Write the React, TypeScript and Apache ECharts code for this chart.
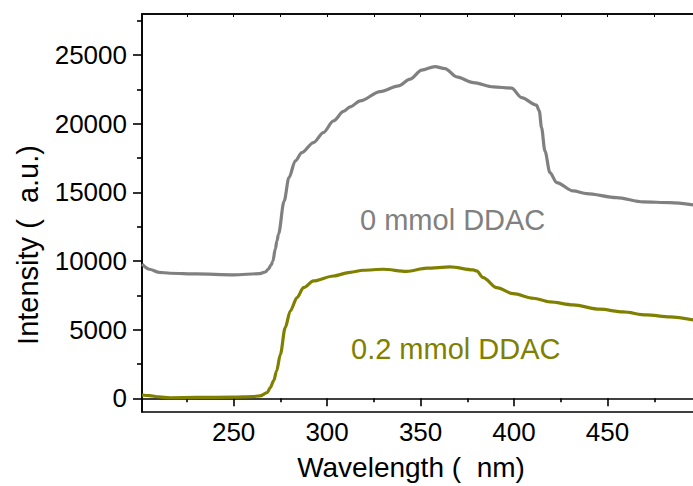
import React, { useEffect, useRef } from "react";
import * as echarts from "echarts";

// Excitation spectra: intensity vs. wavelength for two DDAC loadings
const wavelengthPure = [
  201, 205, 210, 216, 230, 250, 264, 267, 268.5, 270, 271, 272.3, 273.2, 274,
  277, 279.6, 283, 286.5, 292.7, 298, 303.4, 308.8, 312.3, 317.7, 328.4, 338.2,
  344.4, 350.6, 357.7, 363.1, 369.3, 378.2, 388.9, 398.7, 404, 412, 413.5,
  414.7, 416.5, 419.2, 422.8, 431.6, 438.8, 454.8, 469, 483.3, 498,
];
const intensityPure = [
  9770, 9400, 9180, 9110, 9060, 8990, 9080, 9200, 9400, 9700, 9980, 10880,
  11470, 11950, 14360, 16080, 17300, 17900, 18630, 19360, 20210, 20900, 21230,
  21670, 22350, 22760, 23250, 23910, 24170, 24020, 23420, 23000, 22690, 22600,
  21910, 21360, 20940, 19720, 18030, 16440, 15720, 15110, 14910, 14620, 14310,
  14260, 14040,
];

const wavelengthDoped = [
  201, 205, 210, 216, 230, 250, 260, 264, 268, 269.6, 271.5, 273, 275, 277.6,
  280.3, 283.9, 287.4, 292.7, 303.4, 312.3, 319.4, 330, 342.6, 353.3, 365.8,
  378.2, 380, 383.5, 390.7, 399.6, 410.3, 419.2, 431.6, 445.9, 458.3, 470.8,
  483.3, 498,
];
const intensityDoped = [
  240, 200, 100, 40, 60, 80, 120, 170, 410, 770, 1300, 1990, 3200, 5150, 6360,
  7330, 8060, 8550, 8910, 9180, 9330, 9400, 9250, 9480, 9570, 9350, 9280, 8790,
  8060, 7620, 7290, 7020, 6800, 6490, 6290, 6070, 5930, 5650,
];

const xMajorTicks = [250, 300, 350, 400, 450];
const xMinorTicks = [225, 275, 325, 375, 425, 475];
const yMajorTicks = [0, 5000, 10000, 15000, 20000, 25000];
const yMinorTicks = [2500, 7500, 12500, 17500, 22500, 27500];

const seriesNames = ["0 mmol DDAC", "0.2 mmol DDAC"];
const seriesColors = ["#808080", "#808000"];

const FONT = "'Liberation Sans', Arial, sans-serif";
const X_MIN = 201;
const X_MAX = 500;
const Y_MIN = -1000;
const Y_MAX = 28000;

const toPairs = (xs: number[], ys: number[]) => xs.map((x, i) => [x, ys[i]]);

export default function App() {
  const ref = useRef<HTMLDivElement>(null);

  useEffect(() => {
    if (!ref.current) return;
    const chart = echarts.init(ref.current, null, { renderer: "svg" });
    const black = { color: "#000", width: 1.6 };

    chart.setOption({
      animation: false,
      backgroundColor: "#fff",
      grid: {
        left: 142,
        top: 14,
        right: 19,
        bottom: 74,
        show: true,
        borderColor: "#000",
        borderWidth: 1.6,
      },
      xAxis: [
        {
          type: "value",
          min: X_MIN,
          max: X_MAX,
          position: "bottom",
          axisLine: { show: true, lineStyle: black },
          axisTick: { show: true, inside: false, length: 8, customValues: xMajorTicks, lineStyle: black },
          axisLabel: {
            customValues: xMajorTicks,
            margin: 7,
            fontSize: 26,
            color: "#000",
            fontFamily: FONT,
            formatter: (v: number) => String(v),
          },
          splitLine: { show: false },
        },
        {
          type: "value",
          min: X_MIN,
          max: X_MAX,
          position: "bottom",
          axisLine: { show: false },
          axisTick: { show: true, inside: false, length: 4, customValues: xMinorTicks, lineStyle: black },
          axisLabel: { show: false },
          splitLine: { show: false },
        },
        {
          type: "value",
          min: X_MIN,
          max: X_MAX,
          position: "top",
          axisLine: { show: true, lineStyle: black },
          axisTick: {
            show: true,
            inside: true,
            length: 3,
            customValues: [...xMinorTicks, ...xMajorTicks],
            lineStyle: { color: "#000", width: 1 },
          },
          axisLabel: { show: false },
          splitLine: { show: false },
        },
      ],
      yAxis: [
        {
          type: "value",
          min: Y_MIN,
          max: Y_MAX,
          position: "left",
          axisLine: { show: true, lineStyle: black },
          axisTick: { show: true, inside: false, length: 9, customValues: yMajorTicks, lineStyle: black },
          axisLabel: {
            customValues: yMajorTicks,
            margin: 15,
            fontSize: 26,
            color: "#000",
            fontFamily: FONT,
            padding: [0, 0, 5, 0],
            formatter: (v: number) => String(v),
          },
          splitLine: { show: false },
        },
        {
          type: "value",
          min: Y_MIN,
          max: Y_MAX,
          position: "left",
          axisLine: { show: false },
          axisTick: { show: true, inside: false, length: 5, customValues: yMinorTicks, lineStyle: black },
          axisLabel: { show: false },
          splitLine: { show: false },
        },
      ],
      series: [
        {
          name: seriesNames[0],
          type: "line",
          xAxisIndex: 0,
          yAxisIndex: 0,
          data: toPairs(wavelengthPure, intensityPure),
          showSymbol: false,
          smooth: 0.3,
          smoothMonotone: "x",
          lineStyle: { color: seriesColors[0], width: 3.2 },
          itemStyle: { color: seriesColors[0] },
          z: 3,
        },
        {
          name: seriesNames[1],
          type: "line",
          xAxisIndex: 0,
          yAxisIndex: 0,
          data: toPairs(wavelengthDoped, intensityDoped),
          showSymbol: false,
          smooth: 0.3,
          smoothMonotone: "x",
          lineStyle: { color: seriesColors[1], width: 3.2 },
          itemStyle: { color: seriesColors[1] },
          z: 3,
        },
      ],
      graphic: [
        {
          type: "text",
          x: 360,
          y: 220,
          style: {
            text: seriesNames[0],
            fill: seriesColors[0],
            fontSize: 29,
            fontFamily: FONT,
            align: "left",
            verticalAlign: "middle",
          },
        },
        {
          type: "text",
          x: 351,
          y: 349,
          style: {
            text: seriesNames[1],
            fill: seriesColors[1],
            fontSize: 29,
            fontFamily: FONT,
            align: "left",
            verticalAlign: "middle",
          },
        },
        {
          type: "text",
          x: 411,
          y: 467,
          style: {
            text: "Wavelength (  nm)",
            fill: "#000",
            fontSize: 28,
            fontFamily: FONT,
            align: "center",
            verticalAlign: "middle",
          },
        },
        {
          type: "text",
          x: 28,
          y: 245,
          rotation: Math.PI / 2,
          style: {
            text: "Intensity (  a.u.)",
            fill: "#000",
            fontSize: 29,
            fontFamily: FONT,
            align: "center",
            verticalAlign: "middle",
          },
        },
      ],
    });

    return () => chart.dispose();
  }, []);

  return (
    <div
      style={{
        position: "fixed",
        left: 0,
        top: 0,
        width: 693,
        height: 486,
        overflow: "hidden",
        background: "#fff",
      }}
    >
      <div ref={ref} style={{ width: 720, height: 486 }} />
    </div>
  );
}
